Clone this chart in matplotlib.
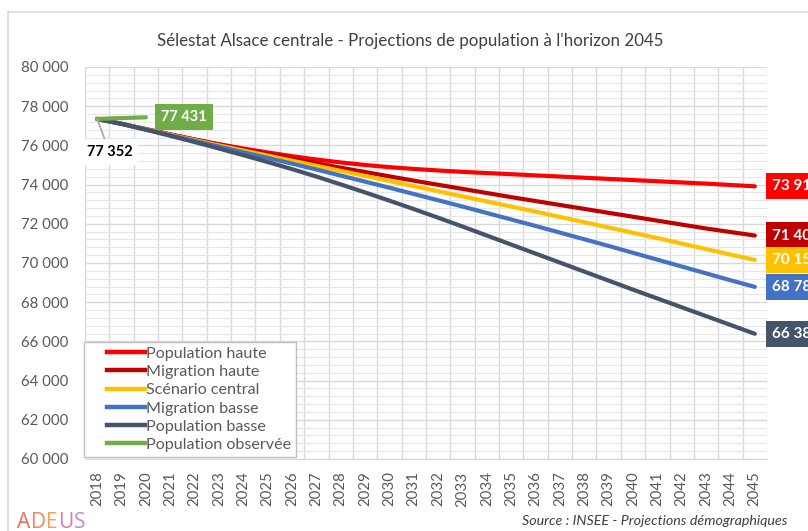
import matplotlib
matplotlib.use("Agg")
import matplotlib.pyplot as plt
import matplotlib.transforms as mtransforms
import numpy as np
from matplotlib.legend_handler import HandlerLine2D
from matplotlib.lines import Line2D
from matplotlib.ticker import MultipleLocator, FuncFormatter

plt.rcParams["font.family"] = ["Lato", "DejaVu Sans"]

years = list(range(2018, 2046))

pop_haute = [77352, 77100, 76830, 76560, 76300, 76060, 75840, 75640, 75450, 75280,
             75130, 75000, 74890, 74800, 74720, 74650, 74590, 74530, 74470, 74410,
             74350, 74290, 74230, 74170, 74110, 74050, 73980, 73912]
migr_haute = [77352, 77100, 76830, 76560, 76300, 76050, 75800, 75560, 75320, 75090,
              74860, 74640, 74420, 74200, 73990, 73780, 73570, 73360, 73160, 72960,
              72760, 72560, 72360, 72160, 71960, 71760, 71580, 71402]
central = [77352, 77100, 76820, 76540, 76270, 76000, 75740, 75480, 75220, 74960,
           74700, 74440, 74180, 73920, 73660, 73400, 73140, 72880, 72620, 72350,
           72080, 71810, 71540, 71270, 70990, 70710, 70430, 70159]
migr_basse = [77352, 77100, 76810, 76520, 76230, 75940, 75650, 75360, 75070, 74770,
              74460, 74150, 73840, 73520, 73200, 72880, 72550, 72220, 71890, 71550,
              71210, 70870, 70520, 70170, 69820, 69470, 69120, 68780]
pop_basse = [77352, 77100, 76800, 76490, 76170, 75840, 75500, 75150, 74790, 74410,
             74010, 73600, 73180, 72750, 72310, 71860, 71400, 70940, 70480, 70020,
             69560, 69100, 68640, 68190, 67740, 67290, 66840, 66389]
obs_years = [2018, 2019, 2020]
observed = [77352, 77395, 77431]

series_names = ["Population haute", "Migration haute", "Scénario central",
                "Migration basse", "Population basse"]
series_colors = ["#ff0000", "#c00000", "#ffc000", "#4472c4", "#44546a"]
obs_name = "Population observée"
obs_color = "#70ad47"


def fmt_thousands(v):
    return f"{int(round(v)):,}".replace(",", " ")


class OffsetLineHandler(HandlerLine2D):
    # the legend line only fills the right part of the handle box
    def get_xdata(self, legend, xdescent, ydescent, width, height, fontsize):
        xdata = np.array([-xdescent + 0.33 * width, -xdescent + width])
        return xdata, xdata


fig = plt.figure(figsize=(8.08, 5.31), dpi=100)
ax = fig.add_axes([85 / 808, 1 - 459 / 531, 682 / 808, 392 / 531])

all_series = [pop_haute, migr_haute, central, migr_basse, pop_basse]
for values, name, color in zip(all_series, series_names, series_colors):
    ax.plot(years, values, color=color, lw=3, solid_capstyle="round", label=name, zorder=3)
ax.plot(obs_years, observed, color=obs_color, lw=3, solid_capstyle="round",
        label=obs_name, zorder=4)

ax.set_xlim(2017.5, 2045.5)
ax.set_ylim(60000, 80000)

ax.set_xticks(years)
ax.set_xticklabels([str(y) for y in years], rotation=90)
ax.xaxis.set_minor_locator(MultipleLocator(1, offset=0.5))
ax.yaxis.set_major_locator(MultipleLocator(2000))
ax.yaxis.set_minor_locator(MultipleLocator(400))
ax.yaxis.set_major_formatter(FuncFormatter(lambda v, p: fmt_thousands(v)))

ax.grid(which="minor", axis="x", color="#d9d9d9", lw=1.0)
ax.grid(which="major", axis="y", color="#d9d9d9", lw=1.0)
ax.grid(which="minor", axis="y", color="#e6e6e6", lw=0.8)
ax.set_axisbelow(True)

ax.tick_params(which="both", length=0)
ax.tick_params(axis="y", pad=12, labelsize=10.8, labelcolor="#595959")
ax.tick_params(axis="x", pad=9, labelsize=10.8, labelcolor="#595959")
for side in ["top", "right", "left"]:
    ax.spines[side].set_visible(False)
ax.spines["bottom"].set_color("#d9d9d9")

# end labels on the right
trans = mtransforms.blended_transform_factory(ax.transAxes, ax.transData)
for values, color in zip(all_series, series_colors):
    ax.text(1.008, values[-1], fmt_thousands(values[-1]), transform=trans,
            ha="left", va="center", color="white", fontsize=11, fontweight="bold",
            bbox=dict(boxstyle="square,pad=0.4", fc=color, ec="none"), clip_on=False)

ax.text(2020.62, observed[-1], fmt_thousands(observed[-1]), ha="left", va="center",
        color="white", fontsize=10.5, fontweight="bold", zorder=6,
        bbox=dict(boxstyle="square,pad=0.42", fc=obs_color, ec="none"))

ax.annotate(fmt_thousands(pop_haute[0]), xy=(2018, pop_haute[0]), xytext=(2018.5, 75680),
            ha="center", va="center", color="black", fontsize=10.5, fontweight="bold", zorder=6,
            bbox=dict(boxstyle="square,pad=0.4", fc="white", ec="none"),
            arrowprops=dict(arrowstyle="-", color="#a6a6a6", lw=1.2, shrinkA=0, shrinkB=0))

handles = [Line2D([0], [0], color=c, lw=3.2) for c in series_colors]
handles.append(Line2D([0], [0], color=obs_color, lw=3.2))
leg = ax.legend(handles, series_names + [obs_name], loc="lower left",
                bbox_to_anchor=(-0.002, 0.006), fontsize=11.6, frameon=True, fancybox=False,
                framealpha=1, edgecolor="#bfbfbf", handlelength=3.5, handletextpad=0.12,
                labelspacing=0.25, borderpad=0.28, borderaxespad=0,
                handler_map={Line2D: OffsetLineHandler()})
for t in leg.get_texts():
    t.set_color("#595959")
leg.set_zorder(5)

fig.text(410 / 808, 1 - 41 / 531,
         "Sélestat Alsace centrale - Projections de population à l'horizon 2045",
         ha="center", va="center", fontsize=12.2, color="#404040")

fig.text(787 / 808, 1 - 521 / 531, "Source : INSEE - Projections démographiques",
         ha="right", va="center", fontsize=10.3, style="italic", color="#404040")

# chart frame
fig.add_artist(Line2D([8 / 808, 8 / 808], [0, 1 - 12 / 531], transform=fig.transFigure,
                      color="#d9d9d9", lw=1.2))
fig.add_artist(Line2D([8 / 808, 1], [1 - 12 / 531, 1 - 12 / 531], transform=fig.transFigure,
                      color="#d9d9d9", lw=1.2))

# logo, letters placed one after the other
logo_letters = ["A", "D", "E", "U", "S"]
logo_colors = ["#ef6b5b", "#f2845a", "#f5a552", "#e673a6", "#c48ad0"]
renderer = fig.canvas.get_renderer()
x_px = 17
for letter, lc in zip(logo_letters, logo_colors):
    t = fig.text(x_px / 808, 1 - 512 / 531, letter, ha="left", va="top", fontsize=15,
                 color=lc, family="Open Sans")
    x_px = t.get_window_extent(renderer).x1 + 0.5

fig.savefig("out.png", dpi=100)
